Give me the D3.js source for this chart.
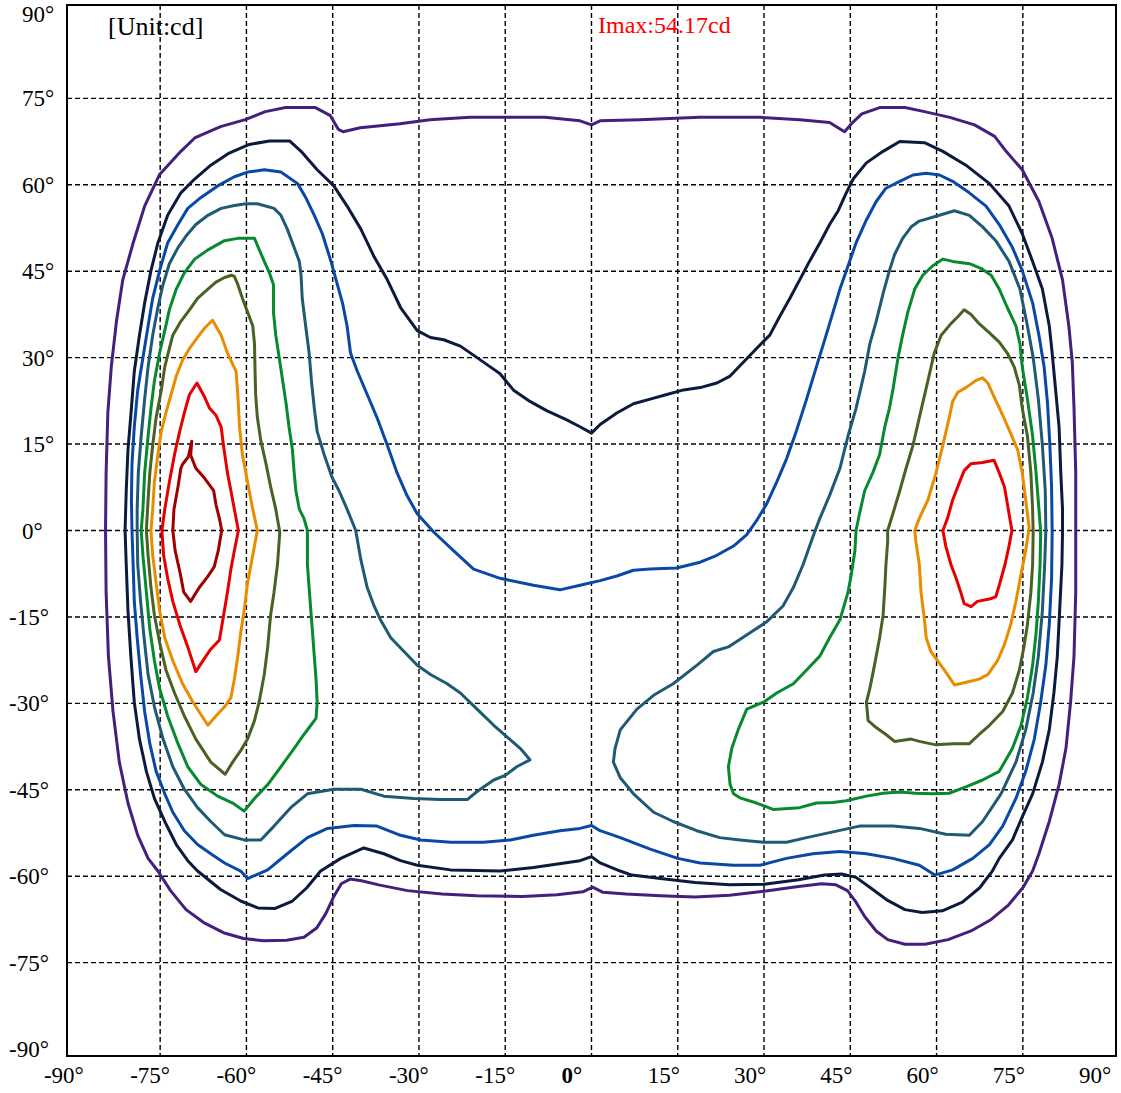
<!DOCTYPE html>
<html><head><meta charset="utf-8">
<script src="https://cdn.jsdelivr.net/npm/d3@7"></script>
<style>html,body{margin:0;padding:0;background:#fff;}svg{display:block;}</style>
</head><body>
<svg id="chart" width="1121" height="1093"></svg>
<script>
// ---- data (degrees: [horizontal angle, vertical angle]) ----
const tickValues = [-90,-75,-60,-45,-30,-15,0,15,30,45,60,75,90];
const gridValues = [-75,-60,-45,-30,-15,0,15,30,45,60,75];
const unitLabel = "[Unit:cd]";
const imaxLabel = "Imax:54.17cd";

const purple = [[-84.5,0],[-84.4,10.0],[-84.1,20.4],[-83.5,28.4],[-82.6,36.3],[-81.5,43.5],[-79.7,49.9],[-77.7,56.3],[-75.1,61.8],[-71.4,65.8],[-68.9,68.2],[-64.5,70.1],[-60.2,71.3],[-56.7,72.7],[-53.2,73.4],[-48.0,73.4],[-45.4,72.0],[-44.0,69.6],[-43.2,69.2],[-40.2,69.9],[-33.3,70.6],[-28.1,71.3],[-21.1,71.7],[-8.1,71.7],[-2.0,71.1],[0,70.4],[1.5,71.1],[8.4,71.3],[18.8,71.7],[29.3,71.7],[36.2,71.3],[41.4,70.8],[44.0,69.2],[45.2,70.6],[47.0,72.3],[50.1,73.4],[54.5,73.4],[57.9,72.7],[62.3,71.7],[66.6,70.4],[70.1,68.4],[72.1,65.8],[74.9,62.6],[77.8,57.1],[80.1,50.7],[81.9,43.5],[83.0,35.5],[83.6,29.2],[83.9,21.2],[84.2,10.0],[84.2,0],[84.2,-10.7],[83.9,-21.8],[83.3,-29.8],[82.5,-37.8],[81.3,-44.1],[79.6,-50.5],[77.8,-56.1],[76.7,-59.1],[75.0,-62],[72.5,-65],[69.5,-67.5],[66,-69.5],[62,-71],[58,-71.8],[54.5,-71.8],[51.5,-71],[49.5,-69.5],[47.5,-67],[46,-64.5],[44.5,-62.5],[42.5,-61.5],[40,-61.3],[36,-61.8],[30,-62.6],[24,-63.3],[18,-63.6],[12,-63.4],[6,-63.1],[2,-62.8],[0.2,-61.9],[-1.5,-62.7],[-6,-63.2],[-12,-63.5],[-20,-63.4],[-26,-63.1],[-32,-62.5],[-37,-61.5],[-40,-60.8],[-42,-60.5],[-43.5,-61.3],[-44.8,-63.5],[-46.2,-66.5],[-47.8,-69],[-50,-70.6],[-53,-71.1],[-57,-71.2],[-60.5,-70.8],[-64,-69.8],[-67.5,-68.0],[-70.5,-65.8],[-73.2,-62.5],[-75.4,-59.1],[-77.1,-56.9],[-78.9,-52.9],[-80.6,-47.3],[-82.1,-40.2],[-83.2,-31.4],[-84.0,-21.8],[-84.4,-10.7]];

const navy = [[-81.1,0],[-80.9,6.9],[-80.6,14.0],[-80.0,21.2],[-79.5,27.6],[-78.6,33.9],[-77.7,39.5],[-76.6,45.1],[-75.4,49.9],[-73.7,54.7],[-71.4,58.6],[-69.0,61.0],[-66.2,63.4],[-63.0,65.5],[-59.5,67.0],[-56.0,67.6],[-52.5,67.6],[-50.5,65.8],[-47.7,62.6],[-44.8,59.8],[-42.5,56.3],[-40.1,52.3],[-37.8,47.5],[-35.5,43.5],[-33.2,38.7],[-30.3,34.7],[-28.0,33.5],[-25.7,33.1],[-22.8,32.0],[-19.9,30.0],[-17.6,28.4],[-15.9,27.2],[-13.6,24.4],[-10.7,22.4],[-7.8,20.8],[-4.3,19.2],[-2.0,18.0],[0,16.9],[1.5,18.4],[4.4,20.4],[7.3,22.0],[10.2,22.8],[13.1,23.6],[16.0,24.4],[18.9,24.8],[21.8,25.6],[24.1,26.8],[26.4,29.2],[28.7,31.6],[31.0,33.9],[32.7,37.1],[34.5,40.3],[36.2,43.5],[37.9,46.7],[39.7,49.9],[41.4,53.1],[42.9,55.5],[44.3,58.6],[45.5,61.0],[47.8,63.8],[50.7,65.8],[53.6,67.5],[57.9,67.3],[61.1,65.8],[65.1,63.4],[69.2,60.2],[72.6,56.3],[74.9,51.5],[76.7,46.7],[78.4,41.9],[79.6,35.5],[80.1,30.8],[80.7,24.4],[81.3,18.0],[81.6,10.0],[81.9,3.7],[81.9,-0.3],[81.8,-5.9],[81.4,-13.9],[81.0,-21.8],[80.4,-28.2],[79.6,-34.6],[78.4,-40.2],[76.7,-45.7],[74.9,-49.7],[73.2,-53.7],[70.9,-56.9],[69.7,-59.1],[67.5,-62],[64.5,-64.5],[61,-66],[57.5,-66.3],[54.5,-65.8],[51.5,-64.2],[48.5,-62],[46,-60.2],[43.5,-59.6],[40.5,-59.8],[36,-60.6],[30,-61.4],[24,-61.5],[18,-61.1],[12,-60.4],[7,-59.8],[5.0,-59.1],[1.5,-57.7],[0,-56.6],[-2.0,-57.3],[-10.1,-58.5],[-15.9,-59.1],[-24.5,-58.9],[-30.3,-58.1],[-33.2,-57.3],[-36.1,-56.1],[-39.6,-55.1],[-43.6,-56.9],[-47.1,-59.1],[-49.5,-62],[-52,-64.3],[-55,-65.6],[-58,-65.5],[-61,-64.3],[-64.5,-62.3],[-68.5,-59.1],[-70.2,-57.3],[-72.2,-54.5],[-74.2,-50.5],[-76.0,-46.5],[-77.4,-41.8],[-78.6,-36.2],[-79.5,-29.8],[-80.1,-21.8],[-80.6,-13.9],[-80.9,-5.9]];

const blue = [[-56.9,62.6],[-54.0,62.2],[-51.1,60.2],[-49.7,57.8],[-48.2,54.7],[-46.8,51.5],[-45.3,46.7],[-44.2,42.7],[-43.3,39.5],[-42.5,35.5],[-41.9,30.8],[-40.7,27.6],[-39.0,23.6],[-37.3,19.6],[-35.5,14.8],[-33.8,10.0],[-32.1,6.1],[-30.3,2.9],[-27.4,-0.3],[-24.0,-3.5],[-20.5,-6.7],[-15.9,-8.3],[-10.1,-9.5],[-5.5,-10.3],[-2.0,-9.5],[1.5,-8.7],[4.4,-7.9],[7.3,-6.9],[10.2,-6.7],[14.8,-6.5],[18.9,-5.5],[21.8,-4.3],[24.7,-2.7],[27.0,-0.7],[28.7,1.7],[30.4,4.5],[32.2,8.4],[33.9,12.4],[35.6,17.2],[37.4,22.8],[39.1,28.4],[40.8,33.9],[42.0,37.9],[43.2,41.9],[44.6,45.9],[46.0,49.9],[47.8,53.9],[49.5,57.1],[51.2,59.4],[53.6,60.6],[55.9,61.7],[58.2,62.0],[60.5,61.7],[62.8,60.6],[65.7,58.6],[68.6,56.3],[70.9,53.1],[73.2,49.1],[74.9,45.1],[76.7,39.5],[77.8,33.9],[78.7,28.4],[79.3,22.0],[79.7,14.8],[80.0,7.6],[80.1,-0.3],[80.0,-8.3],[79.6,-16.3],[79.0,-23.4],[78.1,-29.8],[77.0,-36.2],[75.5,-41.8],[73.8,-46.5],[71.5,-51.3],[69.2,-54.5],[66.3,-56.9],[62.8,-58.9],[59.7,-59.8],[57.0,-58.1],[52.4,-56.9],[47.8,-56.1],[43.2,-55.7],[38.5,-56.1],[33.9,-56.9],[29.3,-58.1],[24.7,-58.1],[18.9,-57.7],[15.0,-56.9],[10.2,-55.3],[5.0,-53.3],[1.5,-52.1],[0,-51.2],[-2.0,-51.7],[-5.5,-52.1],[-10.1,-52.9],[-14.1,-53.7],[-18.8,-54.1],[-24.5,-54.1],[-29.7,-53.7],[-33.2,-52.9],[-37.3,-51.3],[-41.3,-51.2],[-45.9,-51.7],[-49.4,-53.3],[-52.9,-56.1],[-56.3,-58.9],[-59.8,-60.4],[-61.0,-59.1],[-63.8,-57.7],[-66.2,-56.1],[-68.5,-54.5],[-70.8,-52.1],[-72.8,-48.9],[-74.2,-45.7],[-75.7,-41.8],[-76.8,-37.0],[-77.7,-31.4],[-78.4,-25.0],[-79.0,-18.6],[-79.5,-12.3],[-79.7,-5.9],[-79.9,0],[-80.0,5.3],[-79.9,11.6],[-79.5,18.0],[-78.9,24.4],[-78.0,30.0],[-77.1,35.5],[-76.3,40.3],[-75.1,45.1],[-73.7,49.9],[-71.9,53.1],[-70.2,55.9],[-67.9,57.8],[-65.0,59.8],[-62.1,61.4],[-59.8,62.2]];

const tealLeft = [[-55.2,55.9],[-58.1,56.7],[-60.1,56.7],[-62.1,56.4],[-64.4,55.9],[-66.7,54.7],[-68.8,53.1],[-70.5,51.1],[-71.9,49.1],[-73.4,46.3],[-74.5,42.7],[-75.4,38.7],[-76.3,33.9],[-77.1,28.4],[-77.7,22.8],[-78.3,16.4],[-78.8,10.0],[-79.0,3.7],[-79.0,0],[-78.9,-5.9],[-78.4,-12.3],[-77.8,-18.6],[-77.1,-25.0],[-76.0,-30.6],[-74.5,-36.2],[-72.8,-41.0],[-70.8,-44.9],[-68.5,-48.1],[-66.2,-50.5],[-63.8,-52.8],[-60.4,-53.7],[-57.5,-53.7],[-55.2,-51.3],[-52.3,-48.1],[-49.4,-45.7],[-44.8,-44.9],[-40.1,-44.9],[-36.1,-46.1],[-30.9,-46.5],[-26.3,-46.7],[-21.6,-46.7],[-19.9,-45.3],[-17.0,-43.3],[-15.0,-42.5],[-13.0,-41.0],[-10.7,-39.8],[-12.4,-37.8],[-14.7,-35.8],[-17.0,-33.8],[-19.9,-31.0],[-22.8,-28.2],[-25.1,-26.6],[-28.0,-25.0],[-30.3,-23.4],[-32.6,-21.0],[-34.9,-18.6],[-36.7,-15.5],[-37.8,-13.1],[-39.0,-9.9],[-40.1,-5.1],[-41.0,0],[-42.5,3.7],[-43.9,6.9],[-45.1,9.2],[-46.5,13.2],[-47.7,17.2],[-48.2,21.2],[-48.7,26.0],[-49.1,30.8],[-49.7,35.5],[-50.3,40.3],[-50.5,44.3],[-50.8,46.7],[-51.7,49.1],[-52.9,52.3],[-54.0,54.7]];

const tealRight = [[63.1,55.5],[65.7,54.7],[68.0,52.7],[70.3,50.3],[72.6,46.7],[74.5,41.9],[75.8,35.5],[76.8,30.0],[77.7,22.8],[78.4,14.8],[78.9,6.9],[79.0,0],[78.8,-5.9],[78.4,-13.9],[77.7,-21.8],[76.8,-28.2],[75.5,-34.6],[73.8,-40.2],[71.2,-45.7],[68.0,-50.5],[65.7,-52.9],[61.6,-52.7],[57.0,-51.7],[52.4,-51.3],[46.6,-51.3],[42.0,-52.3],[37.4,-53.3],[33.9,-54.1],[29.9,-54.1],[25.8,-53.7],[22.3,-53.3],[18.3,-52.1],[14.2,-50.5],[10.8,-48.9],[7.3,-45.7],[5.0,-42.9],[3.8,-40.2],[4.1,-37.8],[5.0,-34.6],[7.9,-31.0],[10.8,-28.6],[14.2,-26.6],[18.3,-23.4],[21.2,-21.0],[23.8,-20.2],[27.5,-17.8],[30.4,-15.9],[33.3,-13.1],[35.1,-9.9],[36.8,-5.9],[38.5,-1.1],[39.7,2.1],[41.4,6.1],[43.2,10.8],[44.6,16.4],[46.0,21.2],[47.5,27.6],[48.4,32.4],[49.5,36.3],[50.7,41.1],[51.8,45.1],[52.7,47.9],[54.1,50.7],[55.6,52.7],[57.0,53.7],[60.5,54.7]];

const greenLeft = [[-58.6,50.7],[-61.5,50.7],[-63.8,50.3],[-66.7,48.7],[-69.0,47.1],[-70.8,44.7],[-72.2,41.9],[-73.4,38.3],[-74.2,34.7],[-75.1,30.8],[-76.0,26.0],[-76.6,21.2],[-77.1,16.4],[-77.7,10.0],[-78.0,3.7],[-78.3,0],[-78.0,-4.3],[-77.4,-10.7],[-76.8,-17.1],[-76.0,-22.6],[-75.1,-27.4],[-73.7,-32.2],[-71.9,-37.0],[-70.2,-41.0],[-67.9,-44.1],[-65.0,-46.1],[-62.4,-47.3],[-60.4,-48.7],[-58.6,-46.5],[-56.3,-44.1],[-54.0,-41.0],[-51.7,-37.8],[-50.0,-35.4],[-47.9,-32.6],[-47.7,-29.8],[-47.9,-25.8],[-48.2,-21.8],[-48.5,-17.8],[-48.8,-13.9],[-49.1,-9.9],[-49.4,-5.9],[-49.4,0],[-50.0,2.1],[-50.8,3.7],[-51.4,6.9],[-51.7,10.0],[-52.0,14.0],[-52.6,18.0],[-53.1,22.0],[-53.7,26.0],[-54.3,30.0],[-54.9,33.9],[-55.3,37.9],[-55.3,42.7],[-56.0,44.7],[-56.9,46.7],[-58.1,49.5]];

const greenRight = [[46.0,0],[46.6,2.9],[47.5,6.9],[48.9,10.0],[50.1,13.2],[51.0,18.0],[51.8,21.2],[52.4,24.4],[53.3,30.0],[54.1,33.9],[55.0,37.9],[56.2,41.9],[57.6,44.3],[59.3,45.9],[61.1,47.1],[62.8,46.7],[65.7,46.3],[67.7,45.5],[69.5,44.3],[70.9,41.9],[72.3,38.7],[73.8,35.5],[74.5,32.4],[74.9,28.4],[75.8,22.8],[76.7,16.4],[77.3,10.0],[77.8,3.7],[78.1,-0.3],[78.0,-5.9],[77.7,-12.3],[77.3,-17.8],[76.7,-23.4],[75.8,-29.0],[74.7,-33.8],[73.2,-37.8],[70.9,-41.8],[68.0,-43.3],[65.1,-44.5],[62.2,-45.6],[59.3,-45.7],[56.4,-45.6],[53.6,-45.4],[50.7,-45.6],[47.8,-46.1],[44.3,-46.9],[42.0,-47.2],[39.1,-47.3],[36.2,-48.1],[31.6,-48.4],[28.7,-47.3],[25.8,-46.4],[24.7,-45.7],[24.1,-44.1],[23.8,-41.0],[24.4,-37.8],[25.5,-34.6],[27.0,-31.0],[29.9,-29.8],[32.2,-28.2],[35.1,-26.6],[37.4,-24.2],[39.7,-21.8],[41.4,-18.6],[43.2,-15.5],[44.6,-10.7],[45.2,-7.5],[45.8,-3.5]];

const oliveLeft = [[-62.6,44.3],[-63.8,43.9],[-65.3,43.1],[-66.7,41.9],[-68.5,40.3],[-69.9,38.3],[-71.4,36.3],[-72.8,33.9],[-73.4,31.6],[-74.2,28.4],[-74.8,24.4],[-75.7,19.6],[-76.3,14.8],[-76.8,10.0],[-77.1,5.3],[-77.4,0],[-77.1,-4.3],[-76.6,-9.9],[-76.0,-14.7],[-75.1,-19.4],[-74.0,-24.2],[-72.5,-28.2],[-70.8,-32.2],[-68.8,-36.2],[-66.2,-40.2],[-63.7,-42.3],[-62.4,-40.2],[-61.0,-38.2],[-59.8,-36.2],[-58.6,-33.0],[-57.8,-29.8],[-56.9,-25.0],[-56.3,-20.2],[-55.8,-14.7],[-55.2,-10.7],[-54.6,-5.9],[-54.2,-0.3],[-54.9,3.7],[-55.8,7.6],[-56.6,11.6],[-57.5,15.6],[-58.1,19.6],[-58.4,23.6],[-58.5,27.6],[-58.6,32.4],[-58.9,35.5],[-59.8,37.9],[-60.7,40.3],[-61.5,42.7],[-62.1,44.1]];

const oliveRight = [[51.5,0],[52.4,2.9],[53.6,6.9],[54.7,10.8],[55.9,14.8],[57.0,19.6],[58.5,26.0],[59.6,30.8],[60.8,33.9],[62.5,35.9],[63.7,37.1],[64.8,38.3],[66.0,37.5],[67.4,35.9],[69.2,34.3],[70.9,32.7],[72.3,30.8],[73.5,28.4],[74.4,25.2],[74.9,21.2],[75.8,16.4],[76.4,10.0],[76.7,3.7],[76.8,-0.3],[76.7,-5.9],[76.4,-10.7],[75.8,-16.3],[75.2,-20.2],[74.4,-24.2],[73.2,-28.2],[71.5,-31.4],[69.2,-33.8],[67.4,-35.4],[65.7,-37.0],[62.8,-37.0],[59.9,-37.2],[57.0,-36.6],[55.6,-36.2],[52.7,-36.6],[51.2,-35.4],[49.5,-34.2],[48.1,-33.0],[47.8,-29.8],[48.4,-27.4],[49.2,-23.4],[50.1,-18.6],[50.7,-14.7],[51.0,-9.9],[51.2,-5.9],[51.5,-1.9]];

const orangeLeft = [[-65.9,36.5],[-67.3,35.1],[-68.5,33.5],[-69.9,31.6],[-71.1,29.6],[-72.2,26.8],[-73.1,23.6],[-74.0,20.4],[-74.8,17.2],[-75.4,13.2],[-76.0,8.4],[-76.3,3.7],[-76.6,0],[-76.3,-4.3],[-75.7,-9.1],[-75.1,-13.9],[-74.2,-18.6],[-72.8,-22.6],[-71.1,-26.6],[-69.3,-29.8],[-66.7,-33.8],[-65.3,-32.2],[-63.8,-30.6],[-62.7,-29.0],[-62.1,-25.8],[-61.5,-21.8],[-61.0,-17.8],[-60.4,-13.9],[-59.8,-9.1],[-58.9,-4.3],[-58.1,0],[-58.9,3.7],[-59.8,8.4],[-60.7,13.2],[-61.2,18.0],[-61.5,23.6],[-61.8,27.6],[-63.3,30.8],[-64.4,33.9]];

const orangeRight = [[56.2,0],[57.0,2.1],[58.5,5.3],[59.9,10.0],[61.1,14.8],[62.2,19.6],[62.8,22.4],[63.7,24.0],[65.1,24.8],[66.8,26.0],[68.0,26.5],[68.9,25.6],[70.0,23.2],[71.5,20.0],[72.9,16.8],[74.1,14.0],[74.9,10.0],[75.5,5.3],[76.1,0.5],[75.5,-3.5],[74.7,-7.5],[73.8,-12.3],[72.9,-16.3],[71.8,-19.8],[70.6,-22.6],[68.9,-25.0],[67.4,-25.8],[65.7,-26.2],[63.1,-26.8],[61.9,-25.0],[60.5,-23.0],[59.0,-21.0],[58.2,-18.6],[57.9,-15.5],[57.3,-10.7],[57.0,-5.9],[56.4,-1.9]];

const redLeft = [[-68.6,25.6],[-69.9,23.6],[-70.8,20.4],[-71.6,17.2],[-72.5,13.2],[-73.4,8.4],[-74.2,3.7],[-74.7,0],[-74.4,-4.3],[-73.7,-8.3],[-72.8,-12.3],[-71.6,-16.3],[-70.2,-20.2],[-68.8,-24.5],[-67.3,-22.2],[-66.2,-20.6],[-64.7,-19.0],[-64.1,-15.5],[-63.3,-10.7],[-62.7,-6.7],[-62.1,-3.5],[-61.4,0],[-62.1,3.7],[-62.7,6.9],[-63.3,10.0],[-64.0,14.8],[-64.4,18.0],[-65.3,20.0],[-66.4,21.2],[-67.3,23.2]];

const redRight = [[61.1,0],[61.9,2.1],[62.8,5.3],[64.0,8.4],[64.8,10.4],[66.0,11.6],[68.0,11.8],[70.0,12.2],[70.9,10.0],[71.8,7.6],[72.2,5.3],[72.6,2.9],[73.1,0],[72.6,-2.7],[71.9,-5.9],[70.9,-9.5],[70.3,-11.5],[69.2,-11.9],[67.1,-12.3],[66.0,-13.2],[64.8,-12.7],[64.2,-10.7],[63.4,-8.3],[62.5,-5.9],[61.6,-2.7]];

const darkRed = [[-71.4,10.8],[-71.1,11.5],[-70.1,12.8],[-69.5,15.5],[-69.7,13.1],[-68.8,10.8],[-67.3,9.1],[-65.7,6.9],[-65.3,4.5],[-64.7,2.1],[-64.3,0],[-64.9,-3.5],[-65.6,-6.3],[-66.8,-8.1],[-68.2,-9.9],[-69.7,-12.3],[-70.9,-10.7],[-71.5,-7.5],[-72.4,-3.5],[-72.8,0],[-72.6,3.7],[-71.9,7.6]];

const contours = [
  {name:"purple", color:"#44207c", pts:purple},
  {name:"navy", color:"#0c1a3e", pts:navy},
  {name:"blue", color:"#0a48a6", pts:blue},
  {name:"tealL", color:"#1f5a74", pts:tealLeft},
  {name:"tealR", color:"#1f5a74", pts:tealRight},
  {name:"greenL", color:"#078a2e", pts:greenLeft},
  {name:"greenR", color:"#078a2e", pts:greenRight},
  {name:"oliveL", color:"#4a6124", pts:oliveLeft},
  {name:"oliveR", color:"#4a6124", pts:oliveRight},
  {name:"orangeL", color:"#e98c00", pts:orangeLeft},
  {name:"orangeR", color:"#e98c00", pts:orangeRight},
  {name:"redL", color:"#e60000", pts:redLeft},
  {name:"redR", color:"#e60000", pts:redRight},
  {name:"darkRed", color:"#a00000", pts:darkRed}
];

// ---- drawing ----
const svg = d3.select("#chart");
svg.append("rect").attr("width",1121).attr("height",1093).attr("fill","#fff");
const x = d3.scaleLinear().domain([-91.2, 91.2]).range([67, 1116]);
const y = d3.scaleLinear().domain([-91.2, 91.2]).range([1056, 5]);

const grid = svg.append("g");
grid.selectAll("line.v").data(gridValues).join("line")
  .attr("x1",d=>x(d)).attr("x2",d=>x(d)).attr("y1",y(91.2)).attr("y2",y(-91.2))
  .attr("stroke","#000").attr("stroke-width",1.4).attr("stroke-dasharray","5,3");
grid.selectAll("line.h").data(gridValues).join("line")
  .attr("y1",d=>y(d)).attr("y2",d=>y(d)).attr("x1",x(-91.2)).attr("x2",x(91.2))
  .attr("stroke","#000").attr("stroke-width",1.4).attr("stroke-dasharray","5,3");

const line = d3.line().x(d=>x(d[0])).y(d=>y(d[1])).curve(d3.curveLinearClosed);
svg.append("g").selectAll("path").data(contours).join("path")
  .attr("d",d=>line(d.pts)).attr("fill","none").attr("stroke",d=>d.color)
  .attr("stroke-width",3).attr("stroke-linejoin","round");

svg.append("rect").attr("x",x(-91.2)).attr("y",y(91.2))
  .attr("width",x(91.2)-x(-91.2)).attr("height",y(-91.2)-y(91.2))
  .attr("fill","none").attr("stroke","#000").attr("stroke-width",2);

const font = "'Liberation Serif','Times New Roman',serif";
svg.append("g").selectAll("text").data(tickValues).join("text")
  .attr("x",d=>x(d)-30).attr("y",1083)
  .attr("font-family",font).attr("font-size",23)
  .attr("font-weight",d=>d===0?"bold":"normal")
  .text(d=>d+"°");
svg.append("g").selectAll("text").data(tickValues).join("text")
  .attr("x",d=>d<0?9:22).attr("y",d=>Math.max(y(d)+8,22))
  .attr("font-family",font).attr("font-size",23)
  .text(d=>d+"°");

svg.append("text").attr("x",108).attr("y",35).attr("font-family",font).attr("font-size",26).text(unitLabel);
svg.append("text").attr("x",598).attr("y",33).attr("font-family",font).attr("font-size",24).attr("fill","#ff0000").text(imaxLabel);
</script>
</body></html>
